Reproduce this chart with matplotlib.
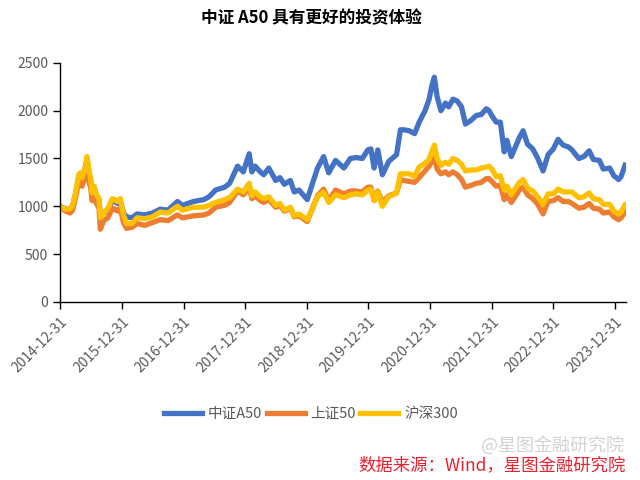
import matplotlib
matplotlib.use("Agg")
import matplotlib.pyplot as plt
import pandas as pd

plt.rcParams['font.family'] = ['Noto Sans CJK SC', 'DejaVu Sans']

# ---- data (normalised to 1000 at 2014-12-31) ----
dates = [
    "2014-12-31", "2015-01-31", "2015-02-28", "2015-03-15", "2015-03-31", "2015-04-20",
    "2015-04-30", "2015-05-10", "2015-05-31", "2015-06-08", "2015-06-20", "2015-06-30",
    "2015-07-08", "2015-07-20", "2015-07-31", "2015-08-18", "2015-08-26", "2015-09-15",
    "2015-10-10", "2015-11-05", "2015-11-20", "2015-12-05", "2015-12-22", "2016-01-10",
    "2016-01-28", "2016-02-29", "2016-03-31", "2016-05-15", "2016-06-30", "2016-08-15",
    "2016-09-30", "2016-11-25", "2016-12-24", "2017-02-28", "2017-04-30", "2017-05-31",
    "2017-07-09", "2017-08-31", "2017-09-30", "2017-11-16", "2017-12-20", "2018-01-24",
    "2018-02-09", "2018-02-28", "2018-03-31", "2018-04-20", "2018-05-20", "2018-06-30",
    "2018-07-25", "2018-08-20", "2018-09-25", "2018-10-18", "2018-11-15", "2019-01-03",
    "2019-02-05", "2019-03-05", "2019-04-10", "2019-05-10", "2019-06-20", "2019-08-08",
    "2019-09-15", "2019-10-20", "2019-11-25", "2019-12-28", "2020-01-15", "2020-02-03",
    "2020-02-25", "2020-03-23", "2020-04-30", "2020-06-15", "2020-07-08", "2020-07-30",
    "2020-08-29", "2020-09-30", "2020-10-27", "2020-12-01", "2020-12-25", "2021-01-10",
    "2021-01-25", "2021-02-10", "2021-03-05", "2021-04-01", "2021-04-20", "2021-05-15",
    "2021-06-10", "2021-07-05", "2021-07-28", "2021-08-31", "2021-09-30", "2021-10-30",
    "2021-11-29", "2021-12-15", "2021-12-31", "2022-01-27", "2022-02-20", "2022-03-15",
    "2022-03-31", "2022-04-26", "2022-06-13", "2022-07-05", "2022-07-31", "2022-08-31",
    "2022-09-30", "2022-10-31", "2022-11-30", "2022-12-31", "2023-01-28", "2023-02-27",
    "2023-03-31", "2023-04-20", "2023-05-31", "2023-06-30", "2023-07-31", "2023-08-25",
    "2023-09-30", "2023-10-23", "2023-11-30", "2023-12-24", "2024-01-22", "2024-02-05",
    "2024-02-29",
]
a50 = [
    1000, 975, 965, 1010, 1120, 1300, 1340, 1290, 1420, 1500, 1350, 1260,
    1120, 1200, 1120, 1070, 900, 930, 960, 1060, 1050, 1030, 1060, 930,
    890, 880, 920, 910, 930, 970, 960, 1050, 1010, 1050, 1070, 1100,
    1170, 1200, 1240, 1420, 1360, 1550, 1360, 1420, 1360, 1330, 1400, 1270,
    1300, 1230, 1270, 1150, 1170, 1070, 1250, 1400, 1520, 1350, 1480, 1400,
    1500, 1510, 1500, 1590, 1600, 1400, 1590, 1330, 1470, 1540, 1800, 1800,
    1790, 1760, 1880, 2000, 2120, 2260, 2350, 2150, 2000, 2080, 2040, 2120,
    2100, 2040, 1860, 1900, 1950, 1960, 2020, 2000, 1950, 1880, 1880, 1570,
    1690, 1520, 1720, 1790, 1650, 1600, 1500, 1370, 1540, 1600, 1700, 1640,
    1620, 1590, 1500, 1520, 1580, 1490, 1480, 1390, 1400, 1320, 1280, 1310,
    1430,
]
sz50 = [
    1000, 950, 930, 960, 1080, 1250, 1270, 1210, 1330, 1400, 1260, 1190,
    1060, 1120, 1040, 980, 760, 850, 880, 980, 970, 950, 980, 830,
    770, 780, 820, 800, 830, 860, 850, 910, 880, 900, 910, 930,
    990, 1010, 1040, 1160, 1120, 1200, 1080, 1110, 1060, 1040, 1070, 990,
    1010, 950, 980, 890, 900, 840, 990, 1110, 1180, 1060, 1170, 1130,
    1160, 1160, 1150, 1200, 1200, 1060, 1160, 1040, 1110, 1140, 1280, 1270,
    1260, 1250, 1300, 1370, 1420, 1470, 1510, 1390, 1340, 1360, 1330, 1360,
    1330, 1280, 1200, 1220, 1240, 1250, 1290, 1290, 1260, 1210, 1220, 1070,
    1120, 1040, 1170, 1200, 1120, 1080, 1020, 920, 1050, 1060, 1090, 1050,
    1050, 1030, 980, 990, 1030, 980, 970, 930, 940, 890, 860, 880,
    940,
]
hs300 = [
    1000, 970, 975, 1010, 1130, 1330, 1350, 1300, 1420, 1520, 1370, 1290,
    1140, 1210, 1130, 1080, 880, 930, 980, 1080, 1070, 1050, 1080, 910,
    820, 820, 880, 870, 890, 940, 930, 1000, 960, 990, 990, 1010,
    1040, 1070, 1090, 1180, 1150, 1240, 1110, 1150, 1100, 1080, 1100, 1010,
    1030, 960, 990, 900, 920, 860, 980, 1100, 1150, 1040, 1120, 1090,
    1120, 1130, 1120, 1170, 1180, 1060, 1150, 1000, 1100, 1140, 1340, 1340,
    1340, 1310, 1410, 1450, 1490, 1570, 1640, 1500, 1430, 1460, 1440, 1500,
    1480, 1440, 1370, 1380, 1380, 1400, 1410, 1420, 1390, 1310, 1320, 1170,
    1210, 1120, 1250, 1280, 1190, 1160, 1100, 1020, 1130, 1130, 1180, 1150,
    1150, 1150, 1090, 1100, 1140, 1080, 1070, 1020, 1020, 950, 920, 940,
    1015,
]
series = ["中证A50", "上证50", "沪深300"]
colors = ["#4472C4", "#ED7D31", "#FFC000"]
ticks = ["2014-12-31", "2015-12-31", "2016-12-31", "2017-12-31", "2018-12-31",
         "2019-12-31", "2020-12-31", "2021-12-31", "2022-12-31", "2023-12-31"]

d = pd.to_datetime(dates)
fig = plt.figure(figsize=(6.4, 4.8), dpi=100)
ax = fig.add_axes([0.094, 0.371, 0.884, 0.498])

for vals, name, c in zip([a50, sz50, hs300], series, colors):
    ax.plot(d, vals, color=c, lw=3.8, label=name, solid_joinstyle="round")

ax.set_ylim(0, 2500)
ax.set_yticks(range(0, 2501, 500))
ax.set_xlim(pd.Timestamp("2014-12-31"), pd.Timestamp("2024-03-05"))
ax.set_xticks(pd.to_datetime(ticks))
ax.set_xticklabels(ticks, rotation=45, ha="right", rotation_mode="anchor")
for s in ["top", "right"]:
    ax.spines[s].set_visible(False)
for s in ["left", "bottom"]:
    ax.spines[s].set_color("black")
    ax.spines[s].set_linewidth(1.0)
ax.tick_params(axis="both", direction="out", length=5, width=1, colors="black",
               labelcolor="#595959", labelsize=10)
ax.tick_params(axis="x", pad=4)

fig.text(0.487, 0.962, "中证 A50 具有更好的投资体验", ha="center", va="center",
         fontsize=12, fontweight="bold", color="black")
fig.legend(loc="center", bbox_to_anchor=(0.486, 0.137), ncol=3, frameon=False,
           fontsize=10.5, handlelength=2.6, handletextpad=0.4, columnspacing=0.3,
           labelcolor="#595959")
fig.text(0.975, 0.072, "@星图金融研究院", ha="right", va="center", fontsize=13,
         color="#c8c8c8", alpha=0.8)
fig.text(0.977, 0.030, "数据来源：Wind，星图金融研究院", ha="right", va="center",
         fontsize=12.5, color="#E8212E", style="italic")

fig.savefig("out.png", dpi=100)
